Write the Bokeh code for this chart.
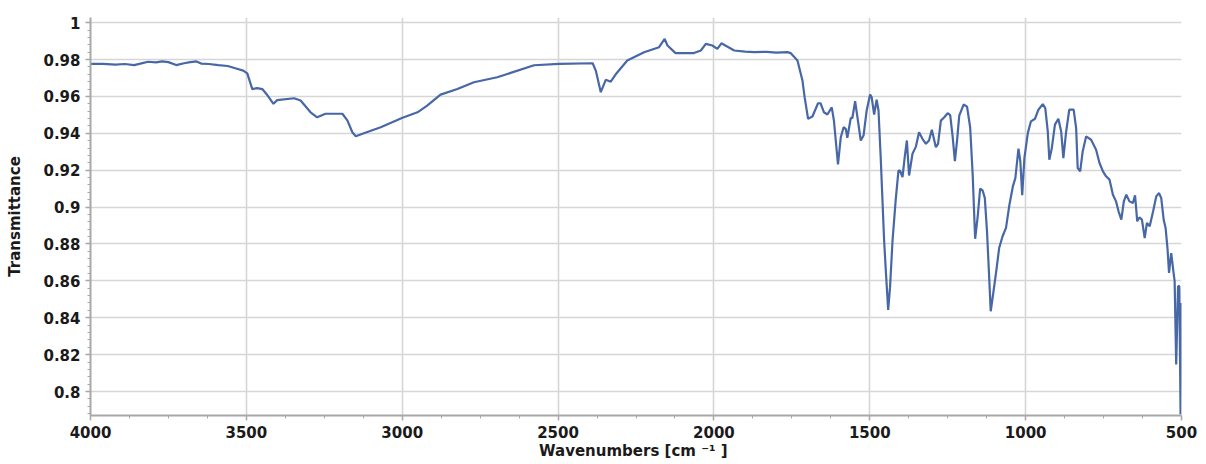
from bokeh.plotting import figure
from bokeh.models import Range1d, FixedTicker
from bokeh.embed import file_html
from bokeh.resources import INLINE

# FTIR spectrum: wavenumber (cm^-1, descending) and transmittance
wavenumber = [
    4000, 3960, 3920, 3890, 3860, 3840, 3815, 3790, 3770, 3750, 3725, 3700,
    3680, 3660, 3645, 3620, 3590, 3560, 3530, 3510, 3497, 3481, 3465, 3449,
    3435, 3413, 3401, 3347, 3326, 3294, 3273, 3246, 3192, 3176, 3160, 3149,
    3123, 3069, 2999, 2951, 2920, 2877, 2823, 2770, 2695, 2577, 2497, 2389,
    2379, 2363, 2347, 2331, 2315, 2278, 2224, 2176, 2158, 2149, 2123, 2064,
    2042, 2026, 2005, 1989, 1976, 1935, 1900, 1871, 1830, 1800, 1764, 1754,
    1732, 1716, 1709, 1698, 1684, 1666, 1658, 1647, 1636, 1622, 1615, 1602,
    1593, 1584, 1577, 1572, 1561, 1556, 1547, 1538, 1529, 1520, 1510, 1499,
    1494, 1486, 1478, 1472, 1465, 1454, 1448, 1441, 1435, 1427, 1417, 1408,
    1403, 1395, 1388, 1381, 1374, 1363, 1352, 1342, 1331, 1320, 1310, 1301,
    1288, 1281, 1272, 1261, 1250, 1242, 1234, 1227, 1220, 1213, 1199, 1188,
    1178, 1170, 1162, 1154, 1146, 1138, 1131, 1124, 1117, 1112, 1103, 1095,
    1085, 1074, 1063, 1052, 1041, 1033, 1023, 1017, 1011, 1004, 993, 983,
    970, 959, 945, 937, 929, 924, 916, 906, 895, 886, 879, 870,
    860, 846, 838, 833, 825, 817, 806, 790, 774, 763, 752, 742,
    731, 720, 710, 702, 693, 685, 677, 667, 656, 649, 642, 635,
    627, 618, 611, 602, 591, 581, 572, 565, 557, 551, 545, 540,
    533, 526, 522, 517, 511, 507, 503, 500,
]
transmittance = [
    0.9777, 0.9777, 0.9772, 0.9776, 0.9770, 0.9778, 0.9788, 0.9785, 0.9790, 0.9786, 0.9770, 0.9780,
    0.9786, 0.9790, 0.9778, 0.9776, 0.9770, 0.9765, 0.9750, 0.9740, 0.9725, 0.9640, 0.9645, 0.9640,
    0.9612, 0.9560, 0.9580, 0.9590, 0.9578, 0.9514, 0.9487, 0.9506, 0.9506, 0.9470, 0.9406, 0.9384,
    0.9400, 0.9433, 0.9484, 0.9514, 0.9550, 0.9610, 0.9640, 0.9677, 0.9704, 0.9769, 0.9777, 0.9780,
    0.9740, 0.9623, 0.9690, 0.9680, 0.9720, 0.9795, 0.9840, 0.9867, 0.9912, 0.9876, 0.9835, 0.9835,
    0.9849, 0.9885, 0.9876, 0.9858, 0.9888, 0.9849, 0.9843, 0.9840, 0.9842, 0.9838, 0.9840, 0.9835,
    0.9795, 0.9686, 0.9596, 0.9479, 0.9491, 0.9563, 0.9563, 0.9514, 0.9502, 0.9541, 0.9469, 0.9231,
    0.9379, 0.9433, 0.9424, 0.9376, 0.9484, 0.9482, 0.9574, 0.9469, 0.9361, 0.9388, 0.9524, 0.9610,
    0.9596, 0.9502, 0.9582, 0.9524, 0.9270, 0.8819, 0.8639, 0.8443, 0.8566, 0.8819, 0.9036, 0.9198,
    0.9198, 0.9162, 0.9270, 0.9361, 0.9171, 0.9289, 0.9328, 0.9406, 0.9370, 0.9343, 0.9361, 0.9419,
    0.9325, 0.9343, 0.9469, 0.9487, 0.9509, 0.9499, 0.9379, 0.9249, 0.9361, 0.9496, 0.9556, 0.9545,
    0.9433, 0.9180, 0.8828, 0.8945, 0.9100, 0.9090, 0.9050, 0.8870, 0.8620, 0.8435, 0.8544, 0.8643,
    0.8778, 0.8842, 0.8887, 0.9013, 0.9112, 0.9157, 0.9317, 0.9248, 0.9064, 0.9266, 0.9401, 0.9465,
    0.9479, 0.9528, 0.9558, 0.9537, 0.9410, 0.9257, 0.9320, 0.9447, 0.9479, 0.9410, 0.9266, 0.9410,
    0.9528, 0.9528, 0.9428, 0.9212, 0.9194, 0.9302, 0.9383, 0.9365, 0.9311, 0.9239, 0.9194, 0.9167,
    0.9149, 0.9067, 0.9031, 0.8977, 0.8932, 0.9031, 0.9067, 0.9031, 0.9022, 0.9064, 0.8923, 0.8944,
    0.8932, 0.8832, 0.8914, 0.8896, 0.8977, 0.9058, 0.9076, 0.9049, 0.8930, 0.8887, 0.8778, 0.8643,
    0.8751, 0.8652, 0.8598, 0.8147, 0.8571, 0.8571, 0.7876, 0.8480,
]

x_ticks = [4000, 3500, 3000, 2500, 2000, 1500, 1000, 500]
x_tick_labels = ["4000", "3500", "3000", "2500", "2000", "1500", "1000", "500"]
y_ticks = [0.8, 0.82, 0.84, 0.86, 0.88, 0.9, 0.92, 0.94, 0.96, 0.98, 1.0]
y_tick_labels = ["0.8", "0.82", "0.84", "0.86", "0.88", "0.9", "0.92", "0.94", "0.96", "0.98", "1"]

x_minor = [4000 - 125 * k for k in range(29)]
y_minor = [round(0.78 + 0.004 * k, 3) for k in range(57)]

p = figure(
    width=1206, height=464,
    output_backend="svg", toolbar_location=None,
    x_range=Range1d(4000, 500), y_range=Range1d(0.787, 1.0028),
    min_border_left=90, min_border_right=25, min_border_top=17, min_border_bottom=49,
    background_fill_color="white", border_fill_color="white",
)
p.outline_line_color = None

p.line(wavenumber, transmittance, line_color="#4767a6", line_width=2.2)

axis_grey = "#a8a8a8"
text_col = "#1a1a1a"

xa = p.xaxis[0]
xa.ticker = FixedTicker(ticks=x_ticks, minor_ticks=x_minor)
xa.major_label_overrides = {t: s for t, s in zip(x_ticks, x_tick_labels)}
xa.axis_label = "Wavenumbers [cm  \u207b\u00b9 ]"

ya = p.yaxis[0]
ya.ticker = FixedTicker(ticks=y_ticks, minor_ticks=y_minor)
ya.major_label_overrides = {t: s for t, s in zip(y_ticks, y_tick_labels)}
ya.axis_label = "Transmittance"

for ax in (xa, ya):
    ax.axis_line_color = axis_grey
    ax.axis_line_width = 2
    ax.major_tick_line_color = axis_grey
    ax.minor_tick_line_color = axis_grey
    ax.major_tick_line_width = 1.5
    ax.minor_tick_line_width = 1
    ax.major_tick_out = 5
    ax.major_tick_in = 0
    ax.minor_tick_out = 3
    ax.minor_tick_in = 0
    ax.major_label_text_font = "DejaVu Sans"
    ax.major_label_text_font_style = "bold"
    ax.major_label_text_font_size = "15px"
    ax.major_label_text_color = text_col
    ax.axis_label_text_font = "DejaVu Sans"
    ax.axis_label_text_font_style = "bold"
    ax.axis_label_text_font_size = "15px"
    ax.axis_label_text_color = text_col

xa.major_label_standoff = 5
xa.axis_label_standoff = 1
ya.major_label_standoff = 5
ya.axis_label_standoff = 16

for g in (p.xgrid[0], p.ygrid[0]):
    g.grid_line_color = "#d6d6d6"
    g.grid_line_width = 1.6
p.xgrid[0].ticker = FixedTicker(ticks=x_ticks)
p.ygrid[0].ticker = FixedTicker(ticks=y_ticks)

open("out.html", "w").write(file_html(p, INLINE))
